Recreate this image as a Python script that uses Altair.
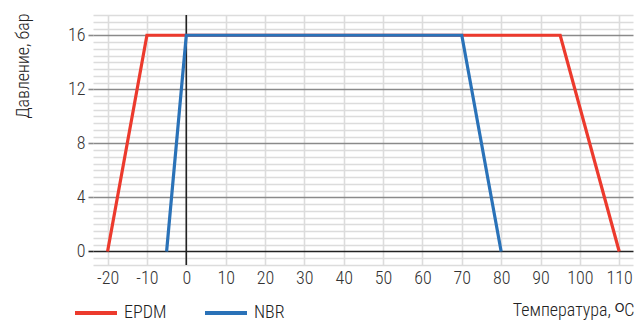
import altair as alt
import pandas as pd

# Data
epdm_t = [-20, -10, 95, 110]
epdm_p = [0, 16, 16, 0]
nbr_t = [-5, 0, 70, 80]
nbr_p = [0, 16, 16, 0]
series_names = ["EPDM", "NBR"]
series_colors = ["#ec3a2d", "#2a72b8"]
x_ticks = [-20, -10, 0, 10, 20, 30, 40, 50, 60, 70, 80, 90, 100, 110]
y_grid = [v / 2 for v in range(-2, 36)]  # every 0.5 bar, labels on multiples of 4
zero_line = [0]

rows = []
for t, p in zip(epdm_t, epdm_p):
    rows.append({"t": t, "p": p, "s": "EPDM", "o": len(rows)})
for t, p in zip(nbr_t, nbr_p):
    rows.append({"t": t, "p": p, "s": "NBR", "o": len(rows)})
df = pd.DataFrame(rows)

FONT = "Roboto Condensed, Liberation Sans Narrow, Arial Narrow, Roboto, sans-serif"
W = 300

x_scale = alt.Scale(domain=[-23.7, 113.5], nice=False, zero=False)
y_scale = alt.Scale(domain=[-1, 17.5], nice=False, zero=False)

x_axis = alt.Axis(
    values=x_ticks,
    title="Температура, ᴼC",
    labelExpr="'' + datum.value",
    titleFont=FONT, titleFontSize=18, titleFontWeight=W, titleColor="#222",
    titleAnchor="end", titleAlign="right", titleBaseline="alphabetic",
    titleX=541, titleY=50,
    labelFont=FONT, labelFontSize=18, labelFontWeight=W, labelColor="#333", labelPadding=4,
    ticks=False, domain=False,
    grid=True,
    gridColor="#dcdcdc",
    gridWidth=1.6,
)
y_axis = alt.Axis(
    values=y_grid,
    title="Давление, бар",
    titleFont=FONT, titleFontSize=18, titleFontWeight=W, titleColor="#222",
    titleAngle=270, titleAnchor="end", titleAlign="right", titleBaseline="alphabetic",
    titleX=-65, titleY=-2,
    labelExpr="datum.value % 4 === 0 ? '' + datum.value : ''",
    labelFont=FONT, labelFontSize=18, labelFontWeight=W, labelColor="#333", labelPadding=3,
    domain=False,
    tickSize=5,
    tickColor={"condition": [{"test": "datum.value === 0", "value": "#222"},
                             {"test": "datum.value % 4 === 0", "value": "#8a8a8a"}],
               "value": "transparent"},
    tickWidth=1.6,
    grid=True,
    gridColor={"condition": [{"test": "datum.value === 0", "value": "#222"},
                             {"test": "datum.value % 4 === 0", "value": "#8a8a8a"}],
               "value": "#dcdcdc"},
    gridWidth=1.5,
)

lines = alt.Chart(df).mark_line(strokeWidth=3.2).encode(
    x=alt.X("t:Q", scale=x_scale, axis=x_axis),
    y=alt.Y("p:Q", scale=y_scale, axis=y_axis),
    color=alt.Color(
        "s:N",
        scale=alt.Scale(domain=series_names, range=series_colors),
        legend=alt.Legend(
            title=None, orient="none", direction="horizontal",
            legendX=-20, legendY=275,
            symbolType="stroke", symbolSize=1764, symbolStrokeWidth=4,
            labelFont=FONT, labelFontSize=18, labelFontWeight=W, labelColor="#222", labelOffset=5,
            columnPadding=30,
        ),
    ),
    order="o:Q",
)

vline = alt.Chart(pd.DataFrame({"v": zero_line})).mark_rule(color="#222", strokeWidth=1.6).encode(
    x=alt.X("v:Q", scale=x_scale, axis=x_axis),
)

chart = alt.layer(vline, lines).properties(
    width=540, height=250,
    autosize=alt.AutoSizeParams(type="none"),
    padding={"left": 85, "top": 7, "right": 3, "bottom": 56},
).configure_view(stroke=None)

chart.save("out.html", embed_options={"renderer": "svg", "actions": False})
